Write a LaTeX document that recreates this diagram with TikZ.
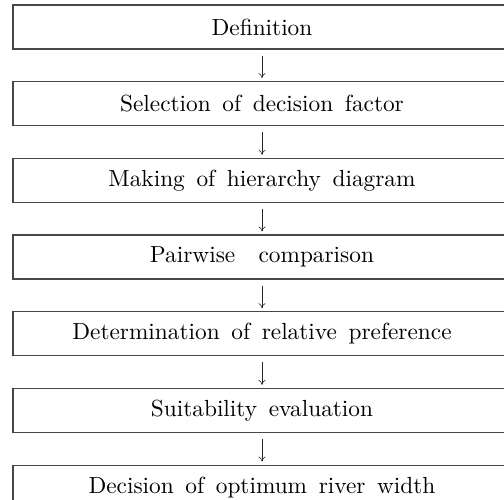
\documentclass[tikz,border=0pt]{standalone}
\usepackage{fontspec}
\setmainfont{lmroman10-regular.otf}
\usepackage{tikz}
\usetikzlibrary{positioning,arrows.meta}
\definecolor{boxline}{RGB}{70,70,70}
\tikzset{%
  stage/.style={draw=boxline, line width=1.2pt, rectangle, minimum width=498pt,
    minimum height=44pt, inner sep=0pt, font=\fontsize{23.3}{27}\selectfont,
    execute at begin node={\spaceskip=0.5em\relax}},% one step of the procedure
  flow/.style={draw=black!85, line width=0.6pt, -{To[length=5pt,width=7pt]},
    shorten <=6pt, shorten >=3pt}% arrow between two steps
}
\begin{document}
\begin{tikzpicture}[x=1pt,y=1pt]
\clip (0,0) rectangle (504,-500);
\node[stage] (def) at (262,-27) {Definition};
\node[stage, below = 31.5pt of def] (sel) {Selection of decision factor};
\node[stage, below = 31.5pt of sel] (hier) {Making of hierarchy diagram};
\node[stage, below = 31.5pt of hier] (pair) {Pairwise\hspace{1em}comparison};
\node[stage, below = 31.5pt of pair] (pref) {Determination of relative preference};
\node[stage, below = 31.5pt of pref] (suit) {Suitability evaluation};
\node[stage, below = 31.5pt of suit] (width) {Decision of optimum river width};

%%%%
\draw[flow] (def) -- (sel);
\draw[flow] (sel) -- (hier);
\draw[flow] (hier) -- (pair);
\draw[flow] (pair) -- (pref);
\draw[flow] (pref) -- (suit);
\draw[flow] (suit) -- (width);
%%%%
\end{tikzpicture}
\end{document}
